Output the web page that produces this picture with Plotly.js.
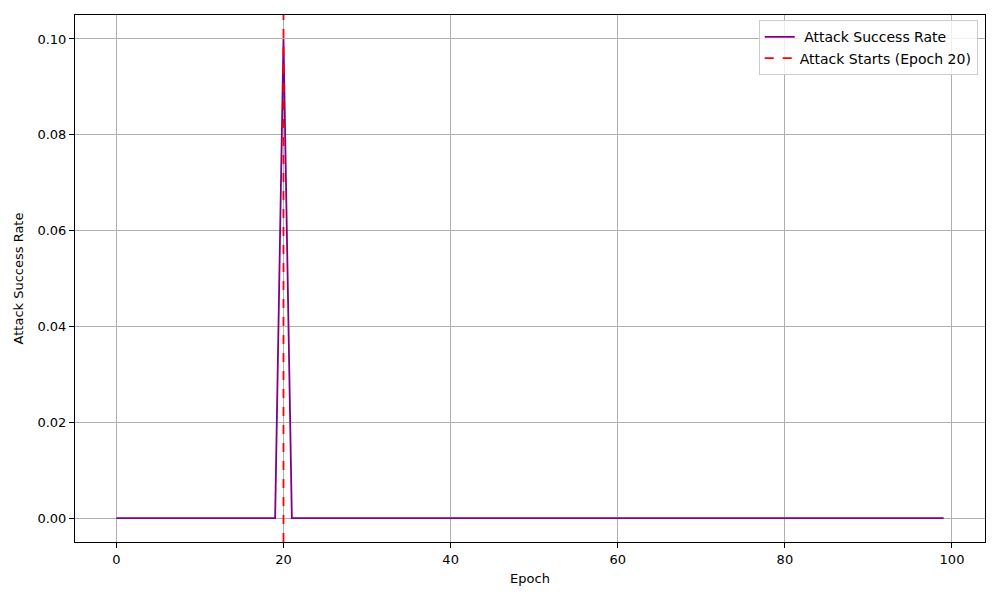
<!DOCTYPE html>
<html>
<head>
<meta charset="utf-8">
<script src="https://cdn.plot.ly/plotly-3.0.1.min.js"></script>
<style>
  body { margin: 0; background: #fff; }
  #chart { width: 1000px; height: 600px; }
</style>
</head>
<body>
<div id="chart"></div>
<script>
    var epochs = [];
    for (var i = 0; i < 100; i++) epochs.push(i);

    var successRate = [
        0, 0, 0, 0, 0, 0, 0, 0, 0, 0,
        0, 0, 0, 0, 0, 0, 0, 0, 0, 0,
        0.1, 0, 0, 0, 0, 0, 0, 0, 0, 0,
        0, 0, 0, 0, 0, 0, 0, 0, 0, 0,
        0, 0, 0, 0, 0, 0, 0, 0, 0, 0,
        0, 0, 0, 0, 0, 0, 0, 0, 0, 0,
        0, 0, 0, 0, 0, 0, 0, 0, 0, 0,
        0, 0, 0, 0, 0, 0, 0, 0, 0, 0,
        0, 0, 0, 0, 0, 0, 0, 0, 0, 0,
        0, 0, 0, 0, 0, 0, 0, 0, 0, 0
    ];

    var attackEpoch = 20;
    var xRange = [-4.95, 103.95];
    var yRange = [-0.005, 0.105];

    var trace1 = {
        x: epochs,
        y: successRate,
        mode: 'lines',
        name: '\u00a0Attack Success Rate',
        line: { color: 'purple', width: 1.8 },
    };

    var trace2 = {
        x: [attackEpoch, attackEpoch],
        y: yRange,
        mode: 'lines',
        name: 'Attack Starts (Epoch 20)',
        line: { color: 'red', width: 1.8, dash: 'dash' },
    };

    var axisCommon = {
        showline: true,
        mirror: true,
        linecolor: 'black',
        linewidth: 1,
        ticks: 'outside',
        ticklen: 5,
        tickcolor: 'black',
        showgrid: true,
        gridcolor: '#b0b0b0',
        gridwidth: 1,
        zeroline: false,
        tickfont: { size: 13, color: 'black' },
    };

    var layout = {
        width: 1000,
        height: 600,
        paper_bgcolor: 'white',
        plot_bgcolor: 'white',
        font: { family: 'DejaVu Sans, sans-serif', size: 13, color: 'black' },
        margin: { l: 75, r: 15, t: 15, b: 58 },
        showlegend: true,
        legend: {
            x: 0.992,
            y: 0.99,
            xanchor: 'right',
            yanchor: 'top',
            bgcolor: 'rgba(255,255,255,0.8)',
            bordercolor: '#cccccc',
            borderwidth: 1,
            font: { size: 14 },
            tracegroupgap: 0,
        },
        xaxis: Object.assign({}, axisCommon, {
            range: xRange,
            tickmode: 'linear',
            tick0: 0,
            dtick: 20,
            title: { text: 'Epoch', font: { size: 13 }, standoff: 8 },
        }),
        yaxis: Object.assign({}, axisCommon, {
            range: yRange,
            tickmode: 'linear',
            tick0: 0,
            dtick: 0.02,
            tickformat: '.2f',
            title: { text: 'Attack Success Rate', font: { size: 13 }, standoff: 10 },
        }),
    };

    Plotly.newPlot(document.getElementById('chart'), [trace1, trace2], layout, { displayModeBar: false });
</script>
</body>
</html>
